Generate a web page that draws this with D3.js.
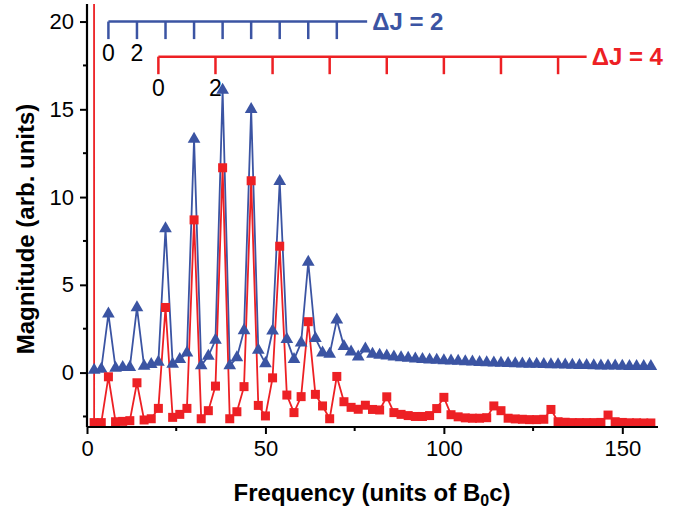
<!DOCTYPE html>
<html>
<head>
<meta charset="utf-8">
<script src="https://cdn.jsdelivr.net/npm/d3@7"></script>
<style>
body { margin: 0; background: #fff; }
text { font-family: "Liberation Sans", Arial, sans-serif; }
</style>
</head>
<body>
<script>
// frequency grid, units of B0c
var freqs = d3.range(2, 160, 2);

// Delta J = 2 spectrum (blue triangles)
var blueVals = [
  0.14, 0.2, 3.35, 0.25, 0.3, 0.3, 3.7, 0.37, 0.47, 0.6,
  8.2, 0.48, 0.75, 1.13, 13.3, 0.4, 0.94, 1.85, 16.1, 0.4,
  0.86, 2.4, 15.0, 1.28, 0.52, 2.38, 10.9, 1.9, 0.75, 1.7,
  6.3, 1.95, 1.13, 1.05, 3.0, 1.5, 1.18, 0.9, 1.35,
  1.05, 1.0, 0.95, 0.9, 0.86, 0.82, 0.79, 0.76, 0.73, 0.71,
  0.69, 0.67, 0.65, 0.63, 0.61, 0.59, 0.57, 0.56, 0.54, 0.53,
  0.51, 0.5, 0.49, 0.48, 0.47, 0.46, 0.45, 0.44, 0.43, 0.42,
  0.41, 0.4, 0.39, 0.38, 0.38, 0.37, 0.36, 0.36, 0.35, 0.35
];

// Delta J = 4 spectrum (red squares), offset down
var redVals = [
  -2.85, -2.85, -0.24, -2.8, -2.78, -2.74, -0.58, -2.7, -2.63, -2.04,
  3.71, -2.55, -2.38, -2.04, 8.7, -2.63, -2.17, -0.77, 11.67, -2.63,
  -2.23, -0.8, 10.93, -1.87, -2.47, -0.3, 7.2, -1.28, -2.28, -1.37,
  2.9, -1.24, -1.9, -2.63, -0.22, -1.66, -1.98, -2.09, -1.86,
  -2.1, -2.13, -1.38, -2.28, -2.38, -2.45, -2.5, -2.5, -2.45, -2.05,
  -1.41, -2.4, -2.52, -2.58, -2.6, -2.6, -2.57, -1.9, -2.17, -2.6,
  -2.64, -2.66, -2.68, -2.68, -2.66, -2.1, -2.8, -2.83, -2.85, -2.85,
  -2.85, -2.85, -2.84, -2.42, -2.8, -2.84, -2.86, -2.86, -2.87, -2.87
];
// red DC point, far off scale
var redDC = [0, 2000];

// comb markers
var blueComb = [6, 14, 22, 30, 38, 46, 54, 62, 70];
var redComb = [20, 36, 52, 68, 84, 100, 116, 132];
var blueCombEnd = 78.5, redCombEnd = 140;
var blueCombLevel = 20, redCombLevel = 18;
var combLabels = ["0", "2"];

var xTicks = [0, 50, 100, 150];
var yTicks = [0, 5, 10, 15, 20];

var width = 685, height = 511;
var margin = {top: 4, right: 27, bottom: 84, left: 87};
var blue = "#3b54a3", red = "#ed2024";

var svg = d3.select("body").append("svg")
    .attr("width", width)
    .attr("height", height);

var x = d3.scaleLinear().domain([0, 160]).range([margin.left, width - margin.right]);
var y = d3.scaleLinear().domain([-3.1, 21]).range([height - margin.bottom, margin.top]);

svg.append("clipPath").attr("id", "clip")
  .append("rect")
    .attr("x", x(0)).attr("y", y(21))
    .attr("width", x(160) - x(0)).attr("height", y(-3.1) - y(21));

var blueData = freqs.map(function(f, i) { return [f, blueVals[i]]; });
var redData = freqs.map(function(f, i) { return [f, redVals[i]]; });

var line = d3.line()
    .x(function(d) { return x(d[0]); })
    .y(function(d) { return y(d[1]); });

var plot = svg.append("g").attr("clip-path", "url(#clip)");

plot.append("path")
    .datum(blueData)
    .attr("d", line)
    .attr("fill", "none")
    .attr("stroke", blue)
    .attr("stroke-width", 1.8);

svg.append("g").selectAll("path")
    .data(blueData)
  .enter().append("path")
    .attr("d", d3.symbol().type(d3.symbolTriangle).size(70))
    .attr("transform", function(d) { return "translate(" + x(d[0]) + "," + y(d[1]) + ")"; })
    .attr("fill", blue);

plot.append("path")
    .datum([redDC].concat(redData))
    .attr("d", line)
    .attr("fill", "none")
    .attr("stroke", red)
    .attr("stroke-width", 1.8);

svg.append("g").selectAll("rect")
    .data(redData)
  .enter().append("rect")
    .attr("x", function(d) { return x(d[0]) - 4.5; })
    .attr("y", function(d) { return y(d[1]) - 4.5; })
    .attr("width", 9)
    .attr("height", 9)
    .attr("fill", red);

// combs
function drawComb(ticks, end, level, color, label, labelGap) {
  var g = svg.append("g");
  g.append("line")
      .attr("x1", x(ticks[0])).attr("x2", x(end))
      .attr("y1", y(level)).attr("y2", y(level))
      .attr("stroke", color).attr("stroke-width", 2.5);
  g.selectAll(".ct")
      .data(ticks)
    .enter().append("line")
      .attr("x1", function(d) { return x(d); })
      .attr("x2", function(d) { return x(d); })
      .attr("y1", y(level))
      .attr("y2", y(level - 1))
      .attr("stroke", color).attr("stroke-width", 2.5);
  g.selectAll(".cl")
      .data(combLabels)
    .enter().append("text")
      .attr("x", function(d, i) { return x(ticks[i]); })
      .attr("y", y(level - 1) + labelGap)
      .attr("text-anchor", "middle")
      .attr("font-size", 23)
      .text(function(d) { return d; });
  g.append("text")
      .attr("x", x(end) + 5)
      .attr("y", y(level) + 8.5)
      .attr("font-size", 24)
      .attr("font-weight", "bold")
      .attr("fill", color)
      .text("\u0394J = " + label);
}
drawComb(blueComb, blueCombEnd, blueCombLevel, blue, "2", 22);
drawComb(redComb, redCombEnd, redCombLevel, red, "4", 22);

// axes
var xAxis = svg.append("g")
    .attr("transform", "translate(0," + y(-3.1) + ")")
    .call(d3.axisBottom(x).tickValues(xTicks).tickSize(7).tickPadding(6));
xAxis.selectAll(".minor")
    .data([25, 75, 125])
  .enter().append("line")
    .attr("x1", function(d) { return x(d); })
    .attr("x2", function(d) { return x(d); })
    .attr("y1", 0).attr("y2", 4)
    .attr("stroke", "#000").attr("stroke-width", 2);

var yAxis = svg.append("g")
    .attr("transform", "translate(" + x(0) + ",0)")
    .call(d3.axisLeft(y).tickValues(yTicks).tickSize(7).tickPadding(6));
yAxis.selectAll(".minor")
    .data([-2.5, 2.5, 7.5, 12.5, 17.5])
  .enter().append("line")
    .attr("x1", 0).attr("x2", -4)
    .attr("y1", function(d) { return y(d); })
    .attr("y2", function(d) { return y(d); })
    .attr("stroke", "#000").attr("stroke-width", 2);

[xAxis, yAxis].forEach(function(a) {
  a.select(".domain").attr("stroke-width", 2.2);
  a.selectAll(".tick line").attr("stroke-width", 2);
  a.selectAll(".tick text")
      .attr("font-size", 22)
      .attr("font-family", "Liberation Sans, Arial, sans-serif")
      .attr("fill", "#000");
});
xAxis.select(".domain").attr("d", "M" + x(0) + ",0H" + x(160));
yAxis.select(".domain").attr("d", "M0," + y(21) + "V" + y(-3.1));

// axis titles
var xt = svg.append("text")
    .attr("x", 372)
    .attr("y", 501)
    .attr("text-anchor", "middle")
    .attr("font-size", 24)
    .attr("font-weight", "bold");
xt.append("tspan").text("Frequency (units of B");
xt.append("tspan").attr("font-size", 16).attr("dy", 5).text("0");
xt.append("tspan").attr("dy", -5).text("c)");

svg.append("text")
    .attr("transform", "translate(34,229) rotate(-90)")
    .attr("text-anchor", "middle")
    .attr("font-size", 24)
    .attr("font-weight", "bold")
    .text("Magnitude (arb. units)");
</script>
</body>
</html>
